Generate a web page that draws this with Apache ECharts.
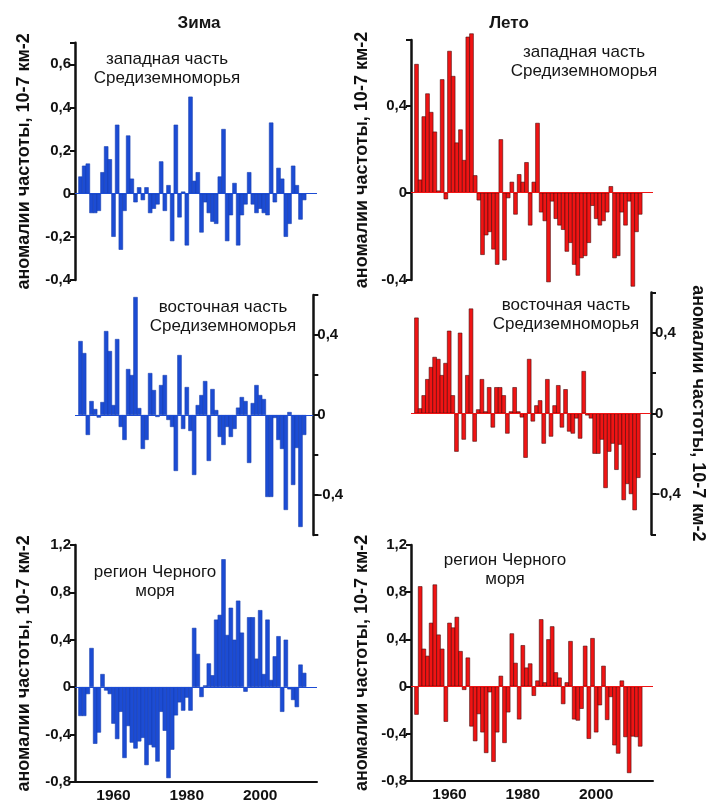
<!DOCTYPE html>
<html>
<head>
<meta charset="utf-8">
<title>Аномалии частоты</title>
<script src="https://cdn.jsdelivr.net/npm/echarts@6.0.0/dist/echarts.min.js"></script>
<style>
  html, body { margin: 0; padding: 0; background: #fff; }
  #chart { width: 708px; height: 812px; }
</style>
</head>
<body>
<div id="chart"></div>
<script>
// categories: 1950 .. 2015, data runs 1951 .. 2012
var years = [];
for (var y = 1950; y <= 2015; y++) { years.push(String(y)); }
var xTickYears = ['1960', '1970', '1980', '1990', '2000', '2010'];
var xLabelYears = ['1960', '1980', '2000'];

// Зима / Лето, западная часть Средиземноморья
var winterWest = [0.08, 0.13, 0.14, -0.09, -0.09, -0.08, 0.1, 0.22, 0.16, -0.2,
  0.32, -0.26, -0.08, 0.27, 0.07, -0.04, 0.03, -0.03, 0.03, -0.09,
  -0.07, -0.05, 0.15, -0.08, 0.04, -0.22, 0.32, -0.11, 0.01, -0.24,
  0.45, 0.06, 0.1, -0.18, -0.04, -0.09, -0.13, -0.14, 0.08, 0.3,
  -0.22, -0.1, 0.05, -0.24, -0.1, -0.05, 0.1, -0.05, -0.09, -0.07,
  -0.09, -0.1, 0.33, -0.04, 0.12, 0.07, -0.2, -0.14, 0.13, 0.04,
  -0.12, -0.03];
var summerWest = [0.59, 0.06, 0.35, 0.455, 0.37, 0.28, 0.01, 0.52, -0.03, 0.65,
  0.535, 0.23, 0.29, 0.15, 0.715, 0.73, 0.08, -0.035, -0.285, -0.195,
  -0.18, -0.26, -0.33, 0.245, -0.31, -0.025, 0.05, -0.1, 0.085, 0.05,
  0.14, -0.15, 0.05, 0.32, -0.09, -0.13, -0.41, -0.04, -0.12, -0.15,
  -0.17, -0.27, -0.23, -0.33, -0.38, -0.3, -0.29, -0.23, -0.06, -0.12,
  -0.15, -0.13, -0.09, 0.03, -0.3, -0.29, -0.09, -0.15, -0.04, -0.43,
  -0.18, -0.1];

// восточная часть Средиземноморья
var winterEast = [0.37, 0.31, -0.1, 0.07, 0.03, -0.013, 0.065, 0.42, 0.32, 0.05,
  0.38, -0.06, -0.125, 0.23, 0.2, 0.59, 0.035, -0.17, -0.125, 0.21,
  0.125, -0.01, 0.15, 0.2, -0.025, -0.06, -0.28, 0.3, -0.07, 0.14,
  -0.08, -0.3, 0.05, 0.1, 0.17, -0.23, 0.13, 0.025, -0.11, -0.15,
  -0.06, -0.11, -0.07, 0.037, 0.09, 0.07, -0.24, 0.06, 0.15, 0.1,
  0.08, -0.41, -0.41, -0.015, -0.125, -0.17, -0.475, 0.015, -0.35, -0.165,
  -0.56, -0.1];
var summerEast = [0.475, 0.025, 0.09, 0.17, 0.23, 0.28, 0.27, 0.19, 0.25, 0.41,
  0.09, -0.19, 0.4, -0.13, 0.19, 0.52, -0.14, 0.02, 0.17, 0.01,
  0.13, -0.07, 0.13, 0.13, 0.09, -0.1, 0.01, 0.13, 0.01, -0.02,
  -0.22, 0.27, -0.04, 0.04, 0.065, -0.15, 0.17, -0.115, 0.04, 0.14,
  -0.07, 0.12, -0.09, -0.1, -0.025, -0.125, 0.21, -0.01, -0.025, -0.2,
  -0.2, -0.13, -0.37, -0.19, -0.15, -0.28, -0.155, -0.43, -0.35, -0.4,
  -0.48, -0.32];

// регион Черного моря
var winterBlack = [-0.245, -0.245, -0.06, 0.33, -0.48, -0.385, 0.11, -0.03, -0.06, -0.31,
  -0.44, -0.21, -0.6, -0.33, -0.47, -0.52, -0.46, -0.43, -0.66, -0.49,
  -0.51, -0.63, -0.21, -0.37, -0.77, -0.53, -0.24, -0.13, -0.2, -0.09,
  -0.2, 0.5, 0.28, -0.085, 0.014, 0.2, 0.1, 0.57, 0.61, 1.08,
  0.44, 0.67, 0.4, 0.73, 0.46, -0.04, 0.59, 0.59, 0.24, 0.65,
  0.11, 0.57, 0.06, 0.26, 0.43, -0.21, 0.4, -0.02, -0.11, -0.17,
  0.19, 0.12];
var summerBlack = [-0.24, 0.85, 0.32, 0.26, 0.54, 0.865, 0.44, 0.32, -0.3, 0.54,
  0.5, 0.59, 0.3, -0.03, 0.245, -0.34, -0.465, -0.235, -0.39, -0.565,
  -0.05, -0.64, -0.39, 0.09, -0.48, -0.22, 0.45, 0.2, -0.28, 0.35,
  0.16, 0.195, -0.08, 0.05, 0.57, 0.035, 0.4, 0.51, 0.12, 0.075,
  -0.15, 0.035, 0.385, -0.28, -0.29, -0.19, 0.345, -0.445, 0.41, -0.39,
  -0.16, 0.175, -0.285, -0.09, -0.5, -0.57, 0.05, -0.43, -0.735, -0.425,
  -0.43, -0.51];

// labelled y ticks
var yLabelsWinterWest = [-0.4, -0.2, 0, 0.2, 0.4, 0.6];
var yLabelsSummerWest = [-0.4, 0, 0.4];
var yLabelsEast = [-0.4, 0, 0.4];
var yLabelsBlack = [-0.8, -0.4, 0, 0.4, 0.8, 1.2];

var yName = 'аномалии частоты, 10-7 км-2';
var blue = '#1c4cd4';
var red = '#f01414';
var font = 'Liberation Sans, Arial, sans-serif';

function pad(vals, n) {
  var out = [null];
  for (var i = 0; i < vals.length; i++) { out.push(vals[i]); }
  while (out.length < n) { out.push(null); }
  return out;
}

function fmt(v) {
  return String(Math.round(v * 10) / 10).replace('.', ',');
}

var panels = [
  {data: winterWest, color: blue, border: '#1a3fae', labels: yLabelsWinterWest,
   grid: {left: 75, top: 42.7, width: 242, height: 237.3}, min: -0.4, max: 0.7, step: 0.2,
   side: 'left', cats: 66, name: true, nameGap: 42, bottomAxis: false},
  {data: summerWest, color: red, border: '#4a0c0c', labels: yLabelsSummerWest,
   grid: {left: 411, top: 40, width: 242, height: 240}, min: -0.4, max: 0.7, step: 0.4,
   side: 'left', cats: 66, name: true, nameGap: 40, bottomAxis: false},
  {data: winterEast, color: blue, border: '#1a3fae', labels: yLabelsEast,
   grid: {left: 75, top: 295, width: 238.3, height: 240}, min: -0.6, max: 0.6, step: 0.2,
   side: 'right', cats: 65, name: false, bottomAxis: false},
  {data: summerEast, color: red, border: '#4a0c0c', labels: yLabelsEast,
   grid: {left: 411, top: 292.4, width: 242, height: 242}, min: -0.6, max: 0.6, step: 0.2,
   side: 'right', cats: 66, name: true, nameGap: 38, bottomAxis: false},
  {data: winterBlack, color: blue, border: '#1a3fae', labels: yLabelsBlack,
   grid: {left: 75, top: 545, width: 242, height: 236.7}, min: -0.8, max: 1.2, step: 0.4,
   side: 'left', cats: 66, name: true, nameGap: 42, bottomAxis: true},
  {data: summerBlack, color: red, border: '#4a0c0c', labels: yLabelsBlack,
   grid: {left: 411, top: 545, width: 242, height: 235.7}, min: -0.8, max: 1.2, step: 0.4,
   side: 'left', cats: 66, name: true, nameGap: 40, bottomAxis: true}
];

var grids = [], xAxes = [], yAxes = [], series = [];

panels.forEach(function (p, i) {
  grids.push(p.grid);

  var cats = years.slice(0, p.cats);
  xAxes.push({
    type: 'category',
    gridIndex: i,
    data: cats,
    show: p.bottomAxis,
    position: 'bottom',
    axisLine: {onZero: false, lineStyle: {color: '#111', width: 2}},
    axisTick: {
      alignWithLabel: true,
      length: 5,
      lineStyle: {color: '#111', width: 2},
      interval: function (idx, val) { return xTickYears.indexOf(val) >= 0; }
    },
    axisLabel: {
      interval: function (idx, val) { return xLabelYears.indexOf(val) >= 0; },
      color: '#111', fontWeight: 'bold', fontSize: 15.5, fontFamily: font, margin: 6
    }
  });

  var labels = p.labels;
  yAxes.push({
    type: 'value',
    gridIndex: i,
    position: p.side,
    min: p.min,
    max: p.max,
    interval: p.step,
    splitLine: {show: false},
    axisLine: {show: true, onZero: false, lineStyle: {color: '#111', width: 2.5}},
    axisTick: {show: true, length: 5, lineStyle: {color: '#111', width: 2}},
    axisLabel: {
      color: '#111', fontWeight: 'bold', fontSize: 15, fontFamily: font, margin: 4,
      showMaxLabel: true, showMinLabel: true,
      formatter: function (v) {
        for (var k = 0; k < labels.length; k++) {
          if (Math.abs(labels[k] - v) < 1e-6) { return fmt(v); }
        }
        return '';
      }
    },
    name: p.name ? yName : '',
    nameLocation: 'middle',
    nameRotate: p.side === 'right' ? -90 : 90,
    nameGap: p.nameGap || 40,
    nameTextStyle: {color: '#111', fontWeight: 'bold', fontSize: 18, fontFamily: font}
  });

  // bars a bit wider than the band so neighbours overlap (no seams)
  series.push({
    type: 'bar',
    xAxisIndex: i,
    yAxisIndex: i,
    data: pad(p.data, p.cats),
    barWidth: 4.4,
    clip: false,
    itemStyle: {color: p.color, borderColor: p.border, borderWidth: 0.6},
    markLine: {
      silent: true,
      symbol: 'none',
      label: {show: false},
      lineStyle: {color: p.color, width: 1, type: 'solid'},
      data: [{yAxis: 0}]
    }
  });
});

var textStyle = function (x, y, txt, size, weight) {
  return {
    type: 'text',
    x: x,
    y: y,
    style: {
      text: txt,
      fill: '#151515',
      font: weight + ' ' + size + 'px ' + font,
      align: 'center',
      verticalAlign: 'middle',
      lineHeight: 19
    }
  };
};

var chart = echarts.init(document.getElementById('chart'));
var option = {
  animation: false,
  backgroundColor: '#fff',
  grid: grids,
  xAxis: xAxes,
  yAxis: yAxes,
  series: series,
  graphic: [
    textStyle(199, 23, 'Зима', 17, 'bold'),
    textStyle(509, 23, 'Лето', 17, 'bold'),
    textStyle(167, 69, 'западная часть\nСредиземноморья', 17, 'normal'),
    textStyle(584, 62, 'западная часть\nСредиземноморья', 17, 'normal'),
    textStyle(223, 317, 'восточная часть\nСредиземноморья', 17, 'normal'),
    textStyle(566, 315, 'восточная часть\nСредиземноморья', 17, 'normal'),
    textStyle(155, 582, 'регион Черного\nморя', 17, 'normal'),
    textStyle(505, 570, 'регион Черного\nморя', 17, 'normal')
  ]
};
chart.setOption(option);
</script>
</body>
</html>
